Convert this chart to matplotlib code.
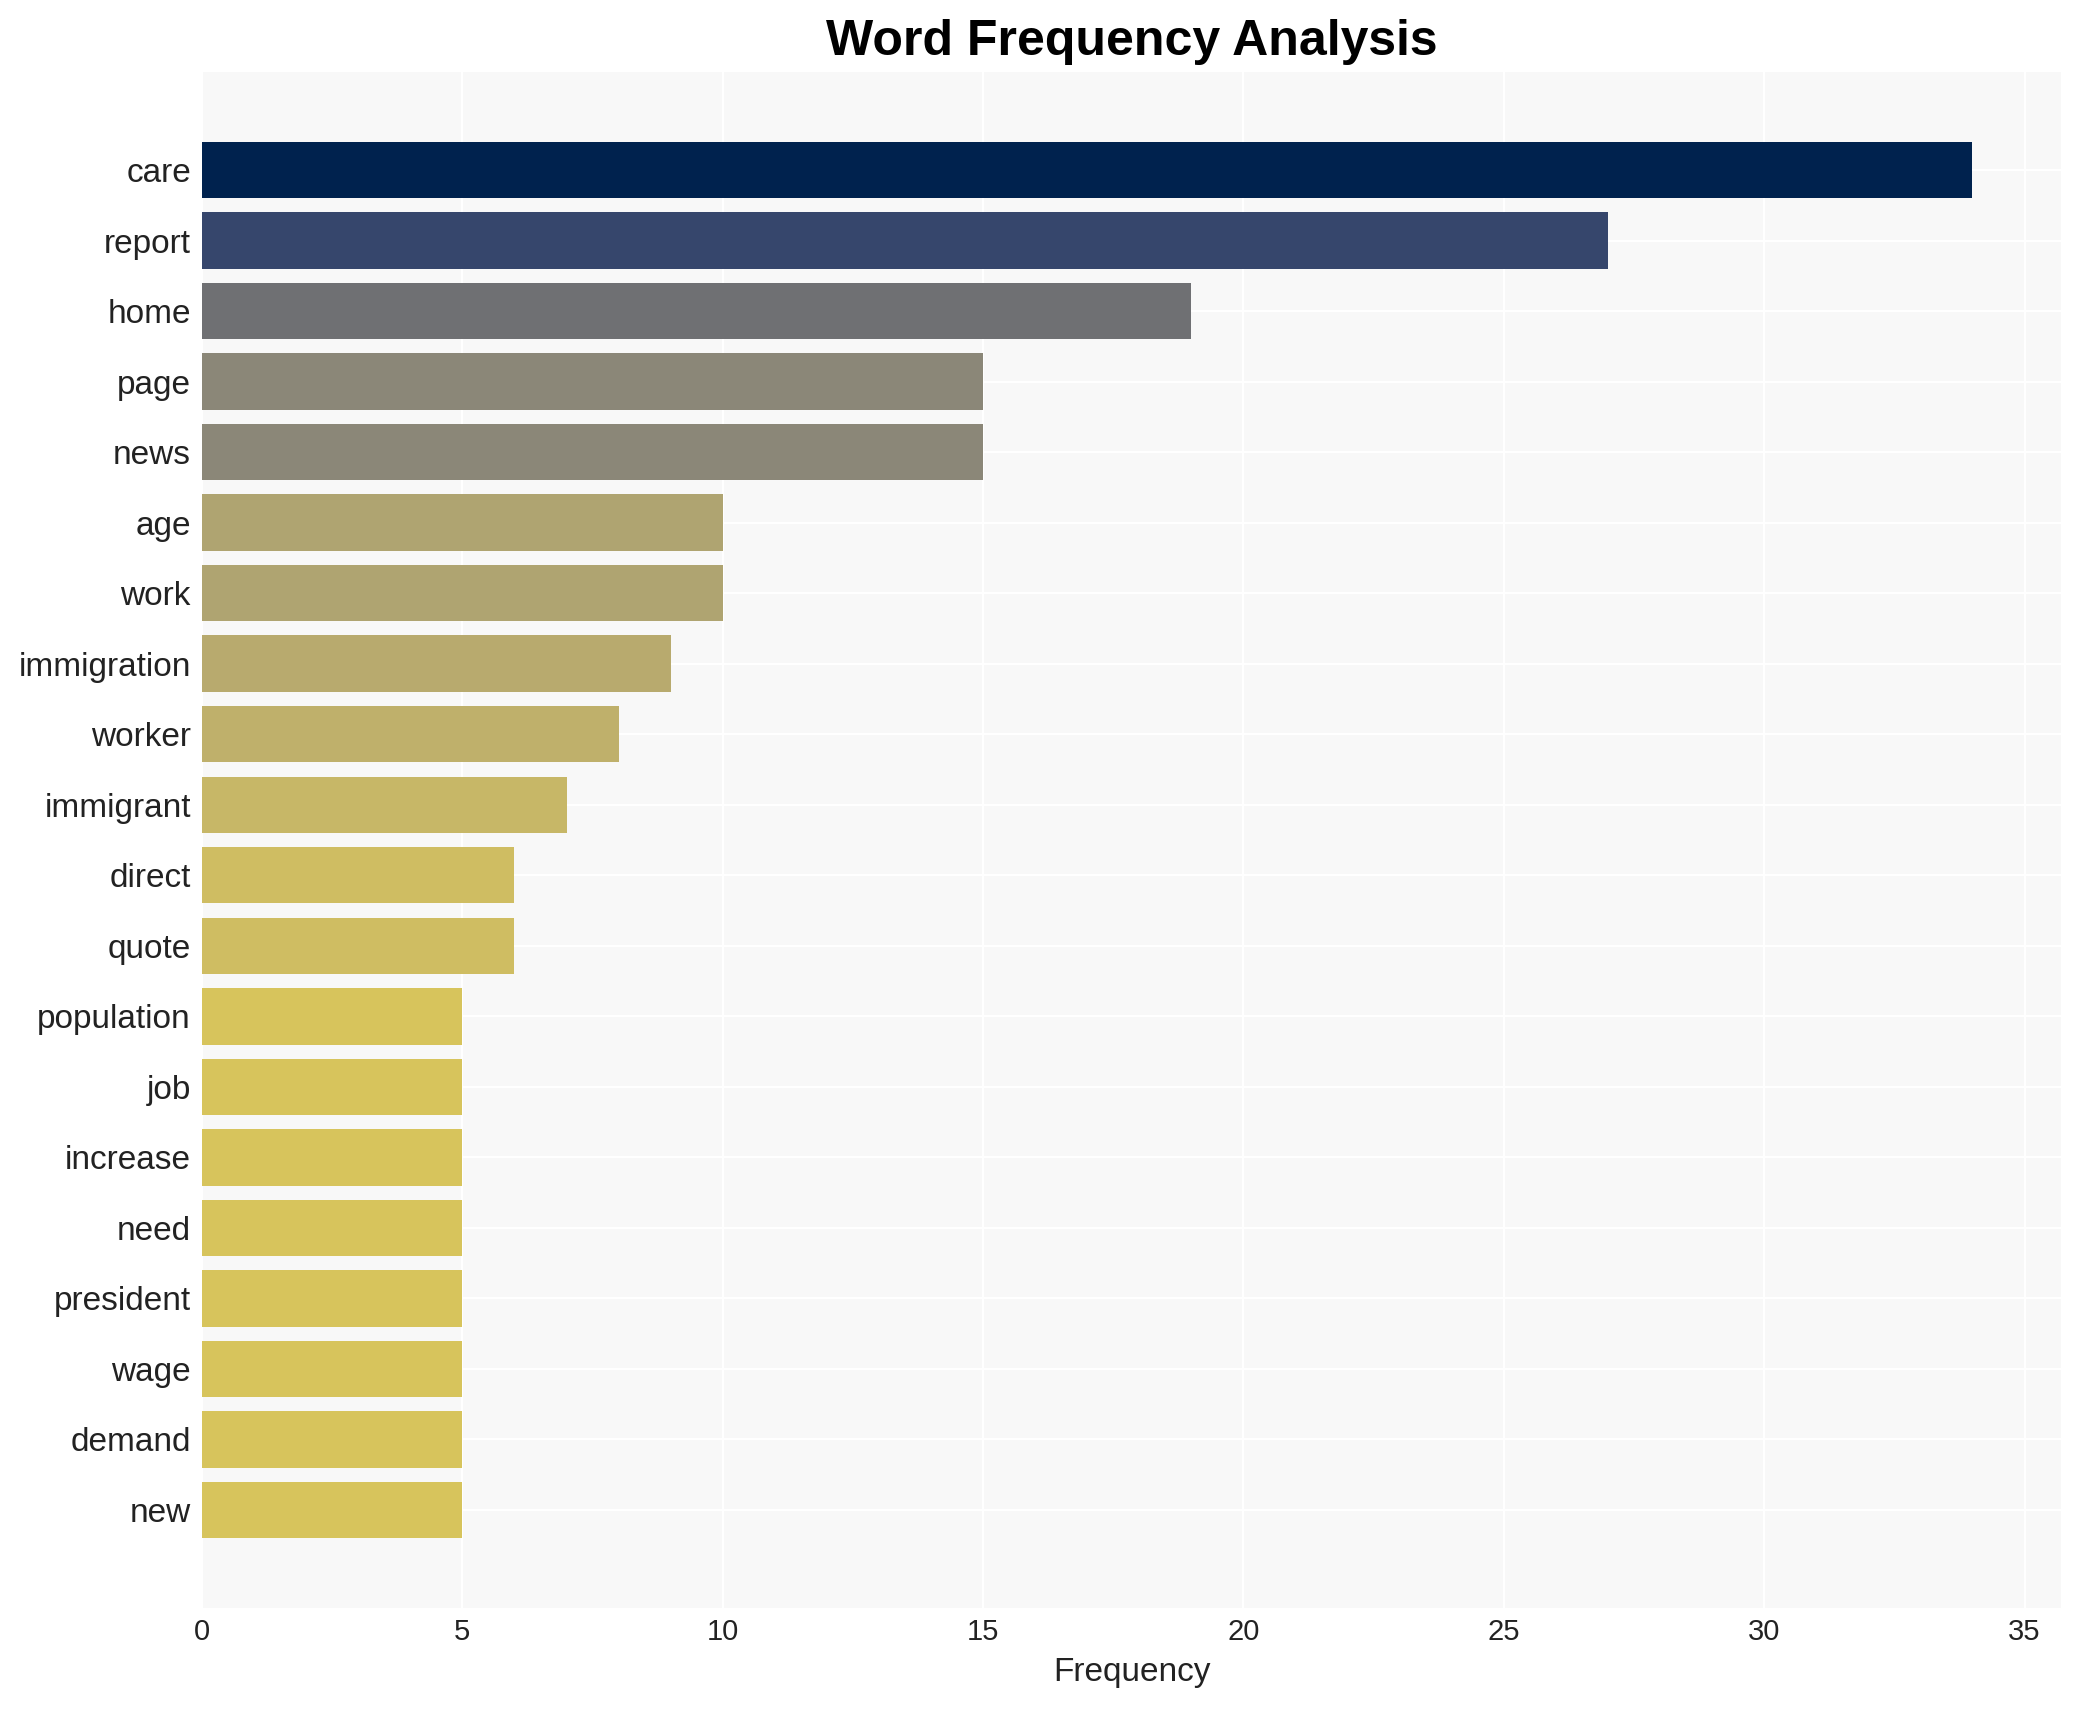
import matplotlib
matplotlib.use("Agg")
import matplotlib.pyplot as plt
import numpy as np

words = ["care", "report", "home", "page", "news", "age", "work", "immigration",
         "worker", "immigrant", "direct", "quote", "population", "job", "increase",
         "need", "president", "wage", "demand", "new"]
freqs = [34, 27, 19, 15, 15, 10, 10, 9, 8, 7, 6, 6, 5, 5, 5, 5, 5, 5, 5, 5]

plt.rcParams['font.family'] = ['Liberation Sans', 'DejaVu Sans']

fig = plt.figure(figsize=(2081/200, 1710/200), dpi=200)
ax = fig.add_axes([202/2081, 1-1608/1710, (2061-202)/2081, (1608-72)/1710])
ax.set_facecolor('#f8f8f8')
cmap = plt.get_cmap('cividis_r')
vals = np.array(freqs, dtype=float)
colors = cmap(vals / vals.max())
y = np.arange(len(words))
ax.barh(y, freqs, color=colors, height=0.8, zorder=2)
ax.invert_yaxis()
ax.set_yticks(y)
ax.set_yticklabels(words, fontsize=12, color='#222222')
ax.tick_params(axis='x', labelsize=10.5, colors='#222222', length=0)
ax.tick_params(axis='y', length=0, pad=4)
ax.grid(True, color='white', linewidth=0.8, zorder=0)
ax.set_axisbelow(True)
for s in ax.spines.values():
    s.set_visible(False)
ax.set_xlabel("Frequency", fontsize=12, color='#222222')
ax.set_title("Word Frequency Analysis", fontsize=18, fontweight='bold', pad=6)
fig.savefig("out.png", dpi=200)
